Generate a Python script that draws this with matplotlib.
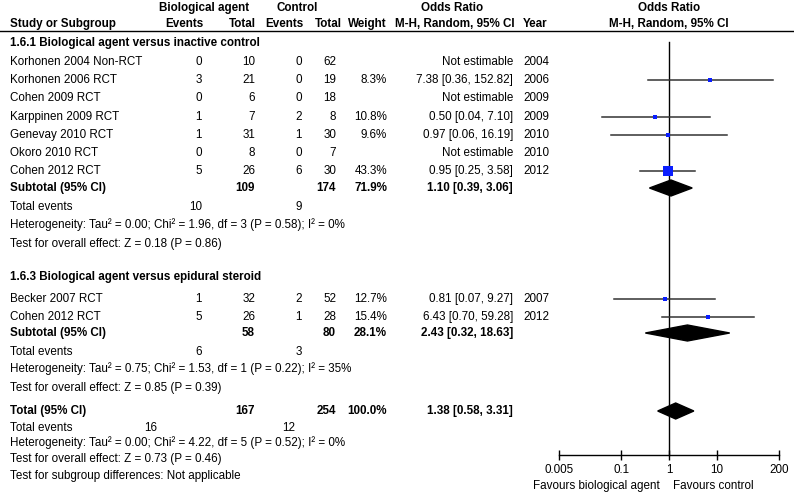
import matplotlib
matplotlib.use('Agg')
import matplotlib.pyplot as plt

plt.rcParams['font.family'] = ['Liberation Sans', 'DejaVu Sans']

# ---- data ----
g1_studies = ['Korhonen 2004 Non-RCT', 'Korhonen 2006 RCT', 'Cohen 2009 RCT', 'Karppinen 2009 RCT',
              'Genevay 2010 RCT', 'Okoro 2010 RCT', 'Cohen 2012 RCT']
g1_years = [2004, 2006, 2009, 2009, 2010, 2010, 2012]
g1_bio_events = [0, 3, 0, 1, 1, 0, 5]
g1_bio_total = [10, 21, 6, 7, 31, 8, 26]
g1_ctl_events = [0, 0, 0, 2, 1, 0, 6]
g1_ctl_total = [62, 19, 18, 8, 30, 7, 30]
g1_weight = [None, 8.3, None, 10.8, 9.6, None, 43.3]
g1_or = [None, 7.38, None, 0.50, 0.97, None, 0.95]
g1_lo = [None, 0.36, None, 0.04, 0.06, None, 0.25]
g1_hi = [None, 152.82, None, 7.10, 16.19, None, 3.58]

g2_studies = ['Becker 2007 RCT', 'Cohen 2012 RCT']
g2_years = [2007, 2012]
g2_bio_events = [1, 5]
g2_bio_total = [32, 26]
g2_ctl_events = [2, 1]
g2_ctl_total = [52, 28]
g2_weight = [12.7, 15.4]
g2_or = [0.81, 6.43]
g2_lo = [0.07, 0.70]
g2_hi = [9.27, 59.28]

# subtotals: [group1, group2, overall]
sub_bio_total = [109, 58, 167]
sub_ctl_total = [174, 80, 254]
sub_weight = [71.9, 28.1, 100.0]
sub_or = [1.10, 2.43, 1.38]
sub_lo = [0.39, 0.32, 0.58]
sub_hi = [3.06, 18.63, 3.31]
sub_bio_events = [10, 6, 16]
sub_ctl_events = [9, 3, 12]
heterogeneity = ['Heterogeneity: Tau² = 0.00; Chi² = 1.96, df = 3 (P = 0.58); I² = 0%',
                 'Heterogeneity: Tau² = 0.75; Chi² = 1.53, df = 1 (P = 0.22); I² = 35%',
                 'Heterogeneity: Tau² = 0.00; Chi² = 4.22, df = 5 (P = 0.52); I² = 0%']
overall_effect = ['Test for overall effect: Z = 0.18 (P = 0.86)',
                  'Test for overall effect: Z = 0.85 (P = 0.39)',
                  'Test for overall effect: Z = 0.73 (P = 0.46)']
group_titles = ['1.6.1 Biological agent versus inactive control',
                '1.6.3 Biological agent versus epidural steroid']
sub_labels = ['Subtotal (95% CI)', 'Subtotal (95% CI)', 'Total (95% CI)']

x_ticks = [0.005, 0.1, 1, 10, 200]
x_ticklabels = ['0.005', '0.1', '1', '10', '200']

# ---- layout (pixel rows) ----
W, H = 794, 503
FS = 8.4
g1_rows = [62 + 18.2 * i for i in range(7)]
g2_rows = [299, 317]
title_rows = [43, 277]
sub_rows = [188, 333, 411]
events_rows = [207, 352, 428]
het_rows = [225, 369, 443]
eff_rows = [244, 388, 459]

X_NAME, X_BE, X_BT, X_CE, X_CT, X_W, X_OR, X_YR = 10, 202, 255, 302, 336, 387, 513, 523

fig = plt.figure(figsize=(W / 100, H / 100), dpi=100)
ax = fig.add_axes([0, 0, 1, 1])
ax.set_xlim(0, W)
ax.set_ylim(H, 0)
ax.axis('off')

ax2 = fig.add_axes([559 / W, 0, 220 / W, 1])
ax2.set_xscale('log')
ax2.set_xlim(0.005, 200)
ax2.set_ylim(H, 0)
ax2.patch.set_alpha(0)


def t(x, y, s, ha='left', bold=False):
    ax.text(x, y, s, ha=ha, va='center', fontsize=FS, fontweight='bold' if bold else 'normal')


# headers
t(204, 8, 'Biological agent', ha='center', bold=True)
t(297, 8, 'Control', ha='center', bold=True)
t(452, 8, 'Odds Ratio', ha='center', bold=True)
t(669, 8, 'Odds Ratio', ha='center', bold=True)
t(10, 24, 'Study or Subgroup', bold=True)
t(203, 24, 'Events', ha='right', bold=True)
t(256, 24, 'Total', ha='right', bold=True)
t(303, 24, 'Events', ha='right', bold=True)
t(342, 24, 'Total', ha='right', bold=True)
t(387, 24, 'Weight', ha='right', bold=True)
t(515, 24, 'M-H, Random, 95% CI', ha='right', bold=True)
t(523, 24, 'Year', bold=True)
t(669, 24, 'M-H, Random, 95% CI', ha='center', bold=True)
ax.plot([0, W], [31, 31], color='black', lw=1)


def draw_group(rows, names, years, be, bt, ce, ct, w, orr, lo, hi):
    for i, y in enumerate(rows):
        t(X_NAME, y, names[i])
        t(X_BE, y, str(be[i]), ha='right')
        t(X_BT, y, str(bt[i]), ha='right')
        t(X_CE, y, str(ce[i]), ha='right')
        t(X_CT, y, str(ct[i]), ha='right')
        t(X_YR, y, str(years[i]))
        if orr[i] is None:
            t(X_OR, y, 'Not estimable', ha='right')
            continue
        t(X_W, y, f'{w[i]:.1f}%', ha='right')
        t(X_OR, y, f'{orr[i]:.2f} [{lo[i]:.2f}, {hi[i]:.2f}]', ha='right')
        ax2.plot([lo[i], hi[i]], [y, y], color='#333333', lw=1.1, zorder=2)
        side = 1.5 + 0.19 * w[i]
        ax2.plot([orr[i]], [y], marker='s', ms=side * 0.72, color='#0a1eff',
                 mec='#0a1eff', mew=0, zorder=3)


def draw_subtotal(k, half):
    y = sub_rows[k]
    t(X_NAME, y, sub_labels[k], bold=True)
    t(X_BT, y, str(sub_bio_total[k]), ha='right', bold=True)
    t(X_CT, y, str(sub_ctl_total[k]), ha='right', bold=True)
    t(X_W, y, f'{sub_weight[k]:.1f}%', ha='right', bold=True)
    t(X_OR, y, f'{sub_or[k]:.2f} [{sub_lo[k]:.2f}, {sub_hi[k]:.2f}]', ha='right', bold=True)
    ax2.fill([sub_lo[k], sub_or[k], sub_hi[k], sub_or[k]], [y, y - half, y, y + half],
             color='black', zorder=3)
    ye = events_rows[k]
    t(X_NAME, ye, 'Total events')
    xb, xc = (X_BE, X_CE) if k < 2 else (157, 295)
    t(xb, ye, str(sub_bio_events[k]), ha='right')
    t(xc, ye, str(sub_ctl_events[k]), ha='right')
    t(X_NAME, het_rows[k], heterogeneity[k])
    t(X_NAME, eff_rows[k], overall_effect[k])


t(X_NAME, title_rows[0], group_titles[0], bold=True)
draw_group(g1_rows, g1_studies, g1_years, g1_bio_events, g1_bio_total, g1_ctl_events,
           g1_ctl_total, g1_weight, g1_or, g1_lo, g1_hi)
draw_subtotal(0, 8)

t(X_NAME, title_rows[1], group_titles[1], bold=True)
draw_group(g2_rows, g2_studies, g2_years, g2_bio_events, g2_bio_total, g2_ctl_events,
           g2_ctl_total, g2_weight, g2_or, g2_lo, g2_hi)
draw_subtotal(1, 8)

draw_subtotal(2, 8)
t(X_NAME, 476, 'Test for subgroup differences: Not applicable')

# forest axis
ax2.plot([1, 1], [42, 455], color='black', lw=1, zorder=1)
for s in ['top', 'left', 'right']:
    ax2.spines[s].set_visible(False)
ax2.spines['bottom'].set_position(('data', 455))
ax2.spines['bottom'].set_linewidth(1)
ax2.set_yticks([])
ax2.set_xticks(x_ticks)
ax2.set_xticklabels(x_ticklabels)
ax2.minorticks_off()
ax2.tick_params(axis='x', direction='inout', length=7, width=1, pad=3, labelsize=FS)

t(660, 486, 'Favours biological agent', ha='right')
t(673, 486, 'Favours control')

fig.savefig('out.png', dpi=100)
